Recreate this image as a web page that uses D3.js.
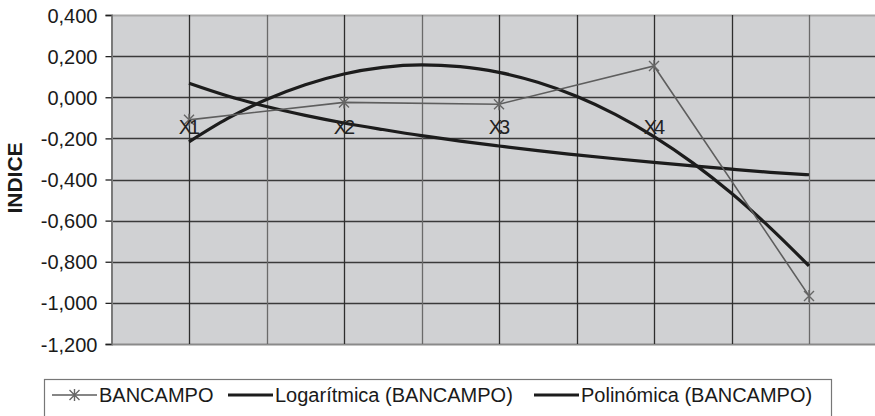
<!DOCTYPE html>
<html>
<head>
<meta charset="utf-8">
<script src="https://cdn.jsdelivr.net/npm/d3@7"></script>
<style>
  html, body { margin: 0; padding: 0; background: #fff; }
  svg { display: block; font-family: "Liberation Sans", Arial, sans-serif; }
</style>
</head>
<body>
<svg id="chart" width="875" height="416"></svg>
<script>
// Observed index values per period
const periods = [1, 2, 3, 4, 5];
const pointLabels = ["X1", "X2", "X3", "X4"];
const bancampo = [-0.11, -0.025, -0.034, 0.152, -0.966];

// Trendline values sampled every quarter period (x = 1 … 5)
const trendX = [1, 1.25, 1.5, 1.75, 2, 2.25, 2.5, 2.75, 3, 3.25, 3.5, 3.75, 4, 4.25, 4.5, 4.75, 5];
const logaritmica = [0.068, 0.006, -0.045, -0.088, -0.125, -0.157, -0.187, -0.213, -0.237,
                     -0.26, -0.28, -0.299, -0.317, -0.334, -0.35, -0.365, -0.377];
const polinomica = [-0.217, -0.103, -0.011, 0.061, 0.113, 0.145, 0.157, 0.149, 0.121,
                    0.073, 0.005, -0.083, -0.191, -0.319, -0.467, -0.635, -0.82];

const yTicks = [0.4, 0.2, 0, -0.2, -0.4, -0.6, -0.8, -1.0, -1.2];
const xGrid = [1, 1.5, 2, 2.5, 3, 3.5, 4, 4.5, 5];
const legendNames = ["BANCAMPO", "Logarítmica (BANCAMPO)", "Polinómica (BANCAMPO)"];
const yTitle = "INDICE";

const svg = d3.select("#chart");
const W = 875;
const plot = { left: 111.5, top: 15, bottom: 344 };

const x = d3.scaleLinear().domain([0.5, 5.5]).range([plot.left, plot.left + 775]);
const y = d3.scaleLinear().domain([-1.2, 0.4]).range([plot.bottom, plot.top]);

const esFormat = d3.formatLocale({
  decimal: ",", thousands: ".", grouping: [3], currency: ["", ""], minus: "-"
}).format(".3f");

// Plot background
svg.append("rect")
  .attr("x", plot.left).attr("y", plot.top)
  .attr("width", W - plot.left).attr("height", plot.bottom - plot.top)
  .attr("fill", "#d0d1d3");

// Horizontal gridlines
svg.append("g").selectAll("line").data(yTicks).join("line")
  .attr("x1", plot.left).attr("x2", W)
  .attr("y1", d => Math.round(y(d)) + 0.5).attr("y2", d => Math.round(y(d)) + 0.5)
  .attr("stroke", (d, i) => (i === 0 ? "#a8a8a8" : (i === yTicks.length - 1 ? "#8a8a8a" : "#3a3a3a")))
  .attr("stroke-width", (d, i) => (i === 0 || i === yTicks.length - 1 ? 2 : 1.3));

// Vertical gridlines
svg.append("g").selectAll("line").data(xGrid).join("line")
  .attr("x1", d => Math.round(x(d)) + 0.5).attr("x2", d => Math.round(x(d)) + 0.5)
  .attr("y1", plot.top).attr("y2", plot.bottom)
  .attr("stroke", d => (d === 1.5 || d === 2.5 || d === 5 ? "#6a6a6a" : "#2e2e2e"))
  .attr("stroke-width", 1.3);

// Value axis
const yAxis = d3.axisLeft(y).tickValues(yTicks).tickSize(6).tickPadding(8).tickFormat(esFormat);
const ya = svg.append("g").attr("transform", `translate(${plot.left},0)`).call(yAxis);
ya.select(".domain").attr("stroke", "#7a7a7a").attr("stroke-width", 2);
ya.selectAll(".tick line").attr("stroke", "#222").attr("stroke-width", 1.3);
ya.selectAll(".tick text")
  .attr("fill", "#1a1a1a")
  .attr("font-size", 20)
  .attr("dy", "0.35em");

// Axis title
svg.append("text")
  .attr("transform", "translate(22,178) rotate(-90)")
  .attr("text-anchor", "middle")
  .attr("font-size", 21).attr("font-weight", "bold").attr("fill", "#1a1a1a")
  .text(yTitle);

// Trendlines
const trendLine = d3.line().x((d, i) => x(trendX[i])).y(d => y(d)).curve(d3.curveMonotoneX);
[logaritmica, polinomica].forEach(series => {
  svg.append("path").datum(series)
    .attr("d", trendLine)
    .attr("fill", "none").attr("stroke", "#1c1c1c")
    .attr("stroke-width", 3.2).attr("stroke-linejoin", "round");
});

// Observed series
const obsLine = d3.line().x((d, i) => x(periods[i])).y(d => y(d));
svg.append("path").datum(bancampo)
  .attr("d", obsLine)
  .attr("fill", "none").attr("stroke", "#5e5e5e").attr("stroke-width", 1.6);

function asterisk(sel, r) {
  sel.append("path")
    .attr("d", `M${-r},${-r}L${r},${r}M${-r},${r}L${r},${-r}M0,${-r * 1.2}L0,${r * 1.2}`)
    .attr("stroke", "#666").attr("stroke-width", 1.4).attr("fill", "none");
}
svg.append("g").selectAll("g").data(bancampo).join("g")
  .attr("transform", (d, i) => `translate(${x(periods[i])},${y(d)})`)
  .each(function () { asterisk(d3.select(this), 5); });

// Point labels
svg.append("g").selectAll("text").data(pointLabels).join("text")
  .attr("x", (d, i) => x(periods[i]) - 1)
  .attr("y", y(-0.18))
  .attr("text-anchor", "middle")
  .attr("font-size", 20).attr("letter-spacing", -3)
  .attr("fill", "#222")
  .text(d => d);

// Legend
const lg = svg.append("g");
lg.append("rect")
  .attr("x", 44.5).attr("y", 379.5).attr("width", 787).attr("height", 50)
  .attr("fill", "#fff").attr("stroke", "#777").attr("stroke-width", 1.2);

const legendItems = [
  { name: legendNames[0], x0: 52, color: "#5e5e5e", width: 1.6, marker: true },
  { name: legendNames[1], x0: 228, color: "#1c1c1c", width: 3.2, marker: false },
  { name: legendNames[2], x0: 534, color: "#1c1c1c", width: 3.2, marker: false }
];
const ly = 395;
legendItems.forEach(it => {
  lg.append("line").attr("x1", it.x0).attr("x2", it.x0 + 45)
    .attr("y1", ly).attr("y2", ly)
    .attr("stroke", it.color).attr("stroke-width", it.width);
  if (it.marker) {
    asterisk(lg.append("g").attr("transform", `translate(${it.x0 + 22.5},${ly})`), 5);
  }
  lg.append("text")
    .attr("x", it.x0 + 47).attr("y", ly).attr("dy", "0.35em")
    .attr("font-size", 20).attr("fill", "#1a1a1a")
    .text(it.name);
});
</script>
</body>
</html>
